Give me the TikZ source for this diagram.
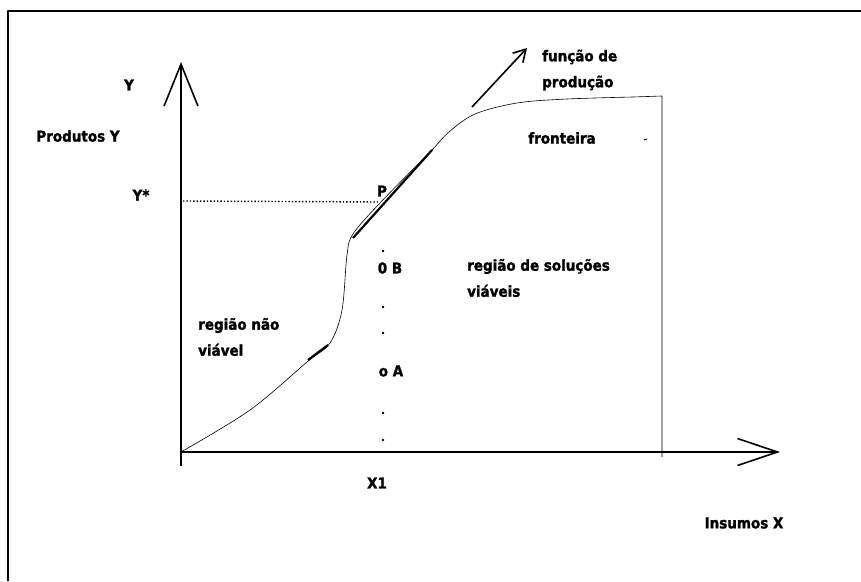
\documentclass[tikz,border=0pt]{standalone}
\usepackage{fontspec}
\setmainfont{DejaVu Sans Condensed}[BoldFeatures={FakeBold=1.5}]
\usetikzlibrary{
    positioning,
    arrows.meta
}
\tikzset{
    rotulo/.style={
        font=\bfseries\fontsize{15}{26}\selectfont,
        inner sep=0pt,
        align=left
    },
    eixo/.style={
        line width=1.7pt
    },
    curva/.style={
        line width=0.6pt
    },
    ponto/.style={
        fill=black,
        inner sep=0pt,
        minimum size=2.6pt,
        circle
    }
}

\begin{document}
\begin{tikzpicture}[
    x=1pt, y=-1pt,
    line join=round
]
    \useasboundingbox (0,0) rectangle (861,581);

    % Moldura
    \draw[line width=1.6pt] (8,581) -- (8,11) -- (861,11);

    % Eixos
    \coordinate (o)  at (181,452);
    \coordinate (yt) at (181,62);
    \coordinate (xt) at (780,452);
    \draw[eixo, -{Straight Barb[length=42pt, width=34pt, line width=1.6pt]}]
        (181,466) -- (yt);
    \draw[eixo, -{Straight Barb[length=40pt, width=27pt, line width=1.6pt]}]
        (o) -- (xt);

    % Textos dos eixos
    \node[rotulo] (ly)   at (129,85)  {Y};
    \node[rotulo] (lprd) at (78,136)  {Produtos Y};
    \node[rotulo] (lys)  at (141,195) {Y*};
    \node[rotulo] (lx1)  at (377,483) {X1};
    \node[rotulo] (lins) at (744,523) {Insumos X};

    % Funcao de producao
    \coordinate (topo) at (662,96);
    \draw[curva] plot[smooth, tension=0.55] coordinates {
        (181,452) (250,410) (307,362) (330,343) (342,310)
        (347,255) (353,234) (380,203) (430,152) (449,132)
        (475,114) (517,103) (567,99) (633,97)
    } -- (topo) -- (662,457);
    \draw[line width=2.2pt] (308,360) -- (328,345);
    \draw[line width=2.2pt] (353,238) -- (432,150);

    % Ponto P e nivel Y*
    \coordinate (p) at (380,202);
    \draw[dotted, line width=1.4pt] (183,201) -- (p);
    \node[rotulo] (lp) at (382,191) {P};

    % Pontos A e B sobre X1
    \foreach \yy in {251,307,333,413,440}
        \node[ponto] at (383,\yy) {};
    \node[rotulo] (lb) at (390,268) {0 B};
    \node[rotulo] (la) at (391,371) {o A};

    % Seta da funcao
    \coordinate (s0) at (472,107);
    \coordinate (s1) at (527,48);
    \draw[line width=1.6pt, -{Straight Barb[length=12pt, width=14pt]}] (s0) -- (s1);
    \node[rotulo, anchor=west] (lfun) at (542,70) {função de\\produção};

    % Regioes
    \node[rotulo] (lfr) at (562,138) {fronteira};
    \draw[line width=1pt] (644,140) -- (647,139);
    \node[rotulo, anchor=west] (lsol) at (467,278) {região de soluções\\viáveis};
    \node[rotulo, anchor=west] (lnv)  at (198,337) {região não\\viável};

\end{tikzpicture}
\end{document}
